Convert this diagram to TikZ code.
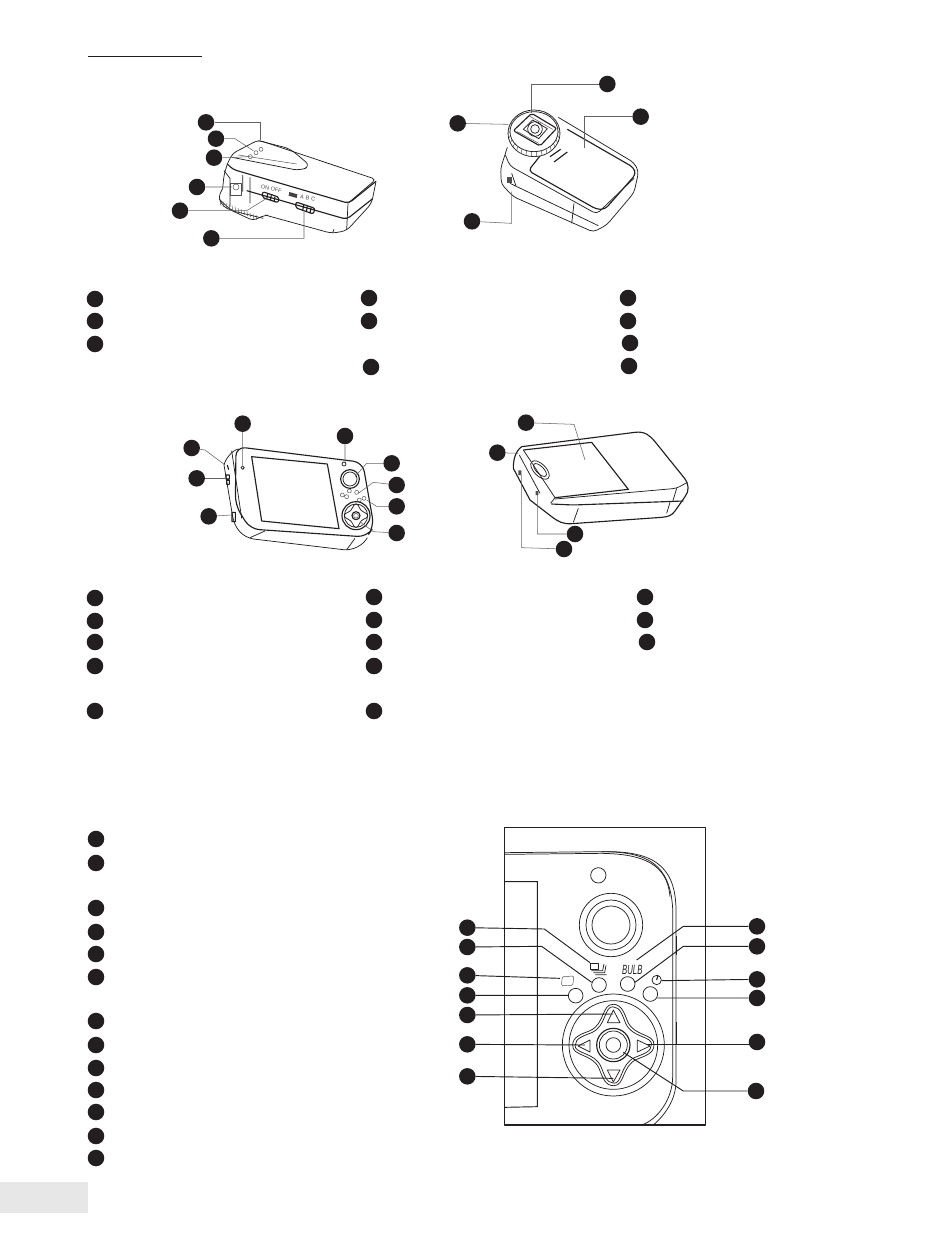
\documentclass[tikz,border=0pt]{standalone}
\usepackage{fontspec}
\setsansfont{Liberation Sans}
\definecolor{PrintBlack}{HTML}{231F20}
\definecolor{PageGrey}{HTML}{E7E7E7}
\begin{document}
\begin{tikzpicture}[x = 0.75pt, y = -0.75pt]%
    %
    \tikzstyle{dot} = [circle, fill = PrintBlack, inner sep = 0pt, minimum size = 12.4pt]%
    \tikzstyle{leader} = [draw = PrintBlack!70, line width = 0.4pt]%
    \tikzstyle{darkleader} = [draw = PrintBlack, line width = 0.7pt]%
    \tikzstyle{outline} = [draw = PrintBlack, line width = 0.55pt, line join = round]%
    \tikzstyle{heavy} = [draw = PrintBlack, line width = 0.85pt, line join = round]%
    \tikzstyle{fine} = [draw = PrintBlack!80, line width = 0.35pt, line join = round]%
    \tikzstyle{tinytext} = [inner sep = 0pt, text = PrintBlack!80, font = \sffamily\fontsize{4.2}{4.2}\selectfont]%
    %
    \useasboundingbox (0,0) rectangle (950,1253);%
    %
    \coordinate (rule-start) at (88,56.5);%
    \coordinate (rule-end) at (202,56.5);%
    \path [draw = PrintBlack, line width = 0.8pt] (rule-start) -- (rule-end);%
    \fill [PageGrey] (0,1182) rectangle (88,1213);%
    %
    % first list
    \node [dot] (l1-a) at (95,299) {};%
    \node [dot] (l1-b) at (95,321) {};%
    \node [dot] (l1-c) at (95,344) {};%
    \node [dot] (l1-d) at (369,298) {};%
    \node [dot] (l1-e) at (369,321) {};%
    \node [dot] (l1-f) at (371,367) {};%
    \node [dot] (l1-g) at (628,298) {};%
    \node [dot] (l1-h) at (628,321) {};%
    \node [dot] (l1-i) at (630,343) {};%
    \node [dot] (l1-j) at (629,366) {};%
    %
    % second list
    \node [dot] (l2-a) at (95,598) {};%
    \node [dot] (l2-b) at (95,621) {};%
    \node [dot] (l2-c) at (95,642) {};%
    \node [dot] (l2-d) at (95,666) {};%
    \node [dot] (l2-e) at (95,711) {};%
    \node [dot] (l2-f) at (374,597) {};%
    \node [dot] (l2-g) at (374,620) {};%
    \node [dot] (l2-h) at (374,642) {};%
    \node [dot] (l2-i) at (374,666) {};%
    \node [dot] (l2-j) at (374,711) {};%
    \node [dot] (l2-k) at (645,597) {};%
    \node [dot] (l2-l) at (645,620) {};%
    \node [dot] (l2-m) at (647,642) {};%
    %
    % third list
    \node [dot] (l3-a) at (96,839) {};%
    \node [dot] (l3-b) at (96,863) {};%
    \node [dot] (l3-c) at (96,908) {};%
    \node [dot] (l3-d) at (96,932) {};%
    \node [dot] (l3-e) at (96,954) {};%
    \node [dot] (l3-f) at (96,977) {};%
    \node [dot] (l3-g) at (96,1021) {};%
    \node [dot] (l3-h) at (96,1045) {};%
    \node [dot] (l3-i) at (96,1068) {};%
    \node [dot] (l3-j) at (96,1090) {};%
    \node [dot] (l3-k) at (96,1112) {};%
    \node [dot] (l3-l) at (96,1136) {};%
    \node [dot] (l3-m) at (96,1158) {};%
    %
    % flash unit, switch side
    \begin{scope}[shift = {(150,40)}, scale = 1/3]%
        \draw [outline, rounded corners = 3pt] (232,372) -- (248,340) -- (325,300) -- (678,418) -- (596,488);%
        \draw [heavy, rounded corners = 3pt] (232,372) -- (248,388) -- (596,490) -- (678,424);%
        \draw [outline, rounded corners = 3pt] (232,372) -- (222,405) -- (218,445);%
        \draw [outline, rounded corners = 4pt] (678,424) -- (665,490) -- (590,572) -- (545,580) -- (345,525);%
        \draw [heavy, rounded corners = 3pt] (290,452) -- (590,538) -- (668,476);%
        \draw [outline] (552,568) -- (548,578) (594,490) -- (590,570);%
        \draw [outline] (222,392) -- (240,415) -- (240,500) (278,405) -- (278,455) (300,412) -- (300,490);%
        \draw [outline, rounded corners = 5pt] (246,352) -- (450,392) -- (482,378) -- (420,326) -- (325,302);%
        \draw [fine] (265,345) -- (440,372);%
        \draw [fine] (301,350) circle (6) (318,338) circle (6) (333,328) circle (6);%
        % port
        \draw [fine] (240,430) rectangle (275,465);%
        \draw [fine] (258,441) circle (9);%
        % dial
        \draw [outline, rounded corners = 3pt] (218,445) -- (205,472) -- (220,500) -- (310,542) -- (332,530) -- (355,525);%
        \draw [outline, rounded corners = 3pt] (208,478) -- (245,512) -- (340,535);%
        \foreach \a in {0,...,12} {%
            \draw [fine] ({210+\a*9},{482+\a*3.6}) -- ({212+\a*9},{496+\a*3.6});%
        }%
        % switches
        \draw [heavy, rounded corners = 1.5pt] (338,455) -- (388,472) -- (384,488) -- (336,472) -- cycle;%
        \draw [heavy, rounded corners = 1.5pt] (438,486) -- (495,505) -- (490,522) -- (436,503) -- cycle;%
        \foreach \a in {0,1,2} {%
            \draw [heavy] ({353+\a*11},{462+\a*4}) -- ({350+\a*11},{478+\a*4});%
            \draw [heavy] ({461+\a*11},{495+\a*4}) -- ({458+\a*11},{512+\a*4});%
        }%
        \fill [PrintBlack!85] (418,456) -- (442,463) -- (440,474) -- (416,467) -- cycle;%
        \node [tinytext, rotate = -12] (on-off) at (364,446) {ON OFF};%
        \node [tinytext, rotate = -12] (abc) at (473,475) {A\,\,B\,\,C};%
        %
        \node [dot] (a-led3) at (168,247) {};%
        \node [dot] (a-led2) at (198,296) {};%
        \node [dot] (a-led1) at (192,353) {};%
        \node [dot] (a-port) at (141,441) {};%
        \node [dot] (a-power) at (90,512) {};%
        \node [dot] (a-channel) at (184,595) {};%
        \coordinate (a-led3-bend) at (330,247);%
        \coordinate (a-led3-end) at (330,300);%
        \coordinate (a-led2-bend) at (255,296);%
        \coordinate (a-led2-end) at (310,332);%
        \coordinate (a-led1-bend) at (240,353);%
        \coordinate (a-led1-end) at (293,350);%
        \coordinate (a-port-end) at (245,441);%
        \coordinate (a-power-bend) at (290,512);%
        \coordinate (a-power-end) at (350,475);%
        \coordinate (a-channel-bend) at (462,595);%
        \coordinate (a-channel-end) at (462,515);%
        \path [leader] (a-led3) -- (a-led3-bend) -- (a-led3-end);%
        \path [leader] (a-led2) -- (a-led2-bend) -- (a-led2-end);%
        \path [leader] (a-led1) -- (a-led1-bend) -- (a-led1-end);%
        \path [leader] (a-port) -- (a-port-end);%
        \path [leader] (a-power) -- (a-power-bend) -- (a-power-end);%
        \path [leader] (a-channel) -- (a-channel-bend) -- (a-channel-end);%
    \end{scope}%
    %
    % flash unit, shoe side
    \begin{scope}[shift = {(430,60)}, scale = 1/3]%
        \draw [outline, rounded corners = 3pt] (385,172) -- (612,308) -- (626,335) -- (612,398) -- (530,495) -- (490,516) -- (250,410) -- (214,372) -- (212,325) -- (232,262);%
        \draw [heavy, rounded corners = 3pt] (412,208) -- (610,322) -- (618,342) -- (525,448) -- (500,448) -- (295,332) -- (330,288);%
        \draw [outline, rounded corners = 3pt] (226,285) -- (240,318) -- (500,462) -- (612,355);%
        \draw [outline] (240,370) -- (505,497);%
        \draw [outline] (432,430) -- (425,490);%
        \draw [heavy] (360,290) -- (392,268) (372,306) -- (412,276);%
        % dial
        \draw [fill = white, outline] (312,220) ellipse [x radius = 78, y radius = 70];%
        \draw [outline] (312,215) ellipse [x radius = 72, y radius = 60];%
        \foreach \a in {0,12,...,348} {%
            \draw [fine] ({312+78*cos(\a)},{220+70*sin(\a)}) -- ({312+72*cos(\a)},{215+60*sin(\a)});%
        }%
        \draw [heavy, fill = white, rounded corners = 1.5pt] (305,160) -- (380,205) -- (330,258) -- (250,212) -- cycle;%
        \draw [outline] (308,180) -- (352,206) -- (326,236) -- (280,208) -- cycle;%
        \draw [outline] (315,207) circle (22) (315,207) circle (13);%
        \draw [fine] (262,215) -- (326,250) (298,168) -- (368,208);%
        \fill [PrintBlack!80] (232,350) rectangle (246,368);%
        \draw [outline] (245,340) -- (258,378);%
        %
        \node [dot] (b-shoe) at (532,72) {};%
        \node [dot] (b-dial) at (83,190) {};%
        \node [dot] (b-cover) at (632,170) {};%
        \node [dot] (b-jack) at (126,484) {};%
        \coordinate (b-shoe-bend) at (305,72);%
        \coordinate (b-shoe-end) at (305,160);%
        \coordinate (b-dial-end) at (235,193);%
        \coordinate (b-cover-bend) at (462,170);%
        \coordinate (b-cover-end) at (462,265);%
        \coordinate (b-jack-bend) at (245,490);%
        \coordinate (b-jack-end) at (245,395);%
        \path [leader] (b-shoe) -- (b-shoe-bend) -- (b-shoe-end);%
        \path [leader] (b-dial) -- (b-dial-end);%
        \path [leader] (b-cover) -- (b-cover-bend) -- (b-cover-end);%
        \path [leader] (b-jack) -- (b-jack-bend) -- (b-jack-end);%
    \end{scope}%
    %
    % remote, front
    \begin{scope}[shift = {(170,405)}, scale = 1/3]%
        \draw [heavy, rounded corners = 7pt] (198,125) -- (578,172) -- (612,365) -- (590,396) -- (240,372) -- (196,300) -- cycle;%
        \draw [outline] (206,132) .. controls (185,135) and (165,165) .. (162,180) -- (188,335) .. controls (195,370) and (215,395) .. (250,402) -- (520,434) .. controls (550,437) and (580,420) .. (592,398);%
        \draw [outline] (185,137) -- (215,340);%
        \draw [outline] (240,398) -- (285,378) (530,434) -- (555,400);%
        \draw [heavy] (245,155) -- (472,177) -- (507,371) -- (275,348) -- cycle;%
        \draw [outline] (218,188) circle (5);%
        \draw [outline] (522,177) circle (6);%
        \draw [heavy] (540,222) circle (28);%
        \draw [outline] (540,222) circle (21);%
        \draw [fine] (517,270) circle (6) (538,258) circle (6) (560,262) circle (6) (582,280) circle (6) (530,275) circle (6) (568,285) circle (6);%
        \draw [heavy] (558,332) circle (42);%
        \draw [outline] (558,332) circle (35);%
        \foreach \a in {0,90,180,270} {%
            \draw [outline, rotate around = {\a:(558,332)}] (558,297) .. controls (548,297) and (548,318) .. (534,322) .. controls (528,324) and (523,326) .. (523,332);%
        }%
        \draw [heavy] (558,332) circle (12);%
        \draw [fine] (558,332) circle (7);%
        \draw [heavy] (172,180) -- (176,194) (168,210) rectangle (178,222) (170,226) rectangle (178,238) (186,322) rectangle (196,350);%
        %
        \node [dot] (c-light) at (218,56) {};%
        \node [dot] (c-jack) at (65,129) {};%
        \node [dot] (c-lock) at (80,220) {};%
        \node [dot] (c-port) at (116,334) {};%
        \node [dot] (c-led) at (525,93) {};%
        \node [dot] (c-shutter) at (665,175) {};%
        \node [dot] (c-modes) at (680,240) {};%
        \node [dot] (c-ring) at (680,304) {};%
        \node [dot] (c-pad) at (680,384) {};%
        \coordinate (c-light-end) at (218,185);%
        \coordinate (c-jack-bend) at (105,135);%
        \coordinate (c-jack-end) at (165,180);%
        \coordinate (c-lock-end) at (165,220);%
        \coordinate (c-port-end) at (185,330);%
        \coordinate (c-led-end) at (525,170);%
        \coordinate (c-shutter-bend) at (590,175);%
        \coordinate (c-shutter-end) at (555,215);%
        \coordinate (c-modes-bend) at (610,232);%
        \coordinate (c-modes-end) at (565,265);%
        \coordinate (c-ring-bend) at (620,304);%
        \coordinate (c-ring-end) at (590,285);%
        \coordinate (c-pad-bend) at (610,380);%
        \coordinate (c-pad-end) at (570,350);%
        \path [leader] (c-light) -- (c-light-end);%
        \path [leader] (c-jack) -- (c-jack-bend) -- (c-jack-end);%
        \path [leader] (c-lock) -- (c-lock-end);%
        \path [leader] (c-port) -- (c-port-end);%
        \path [leader] (c-led) -- (c-led-end);%
        \path [leader] (c-shutter) -- (c-shutter-bend) -- (c-shutter-end);%
        \path [leader] (c-modes) -- (c-modes-bend) -- (c-modes-end);%
        \path [leader] (c-ring) -- (c-ring-bend) -- (c-ring-end);%
        \path [leader] (c-pad) -- (c-pad-bend) -- (c-pad-end);%
    \end{scope}%
    %
    % remote, back
    \begin{scope}[shift = {(480,405)}, scale = 1/3]%
        \draw [heavy] (125,125) -- (465,82) .. controls (495,78) and (510,92) .. (525,110) -- (612,218) .. controls (628,238) and (628,258) .. (615,275) -- (585,318) .. controls (575,332) and (565,335) .. (545,337) -- (275,356) .. controls (250,358) and (235,350) .. (215,335) -- (150,285) -- (100,190) .. controls (100,165) and (105,140) .. (125,125) -- cycle;%
        \draw [heavy] (130,135) -- (335,112) -- (445,253) -- (225,278);%
        \draw [outline] (130,135) -- (225,278) -- (212,295);%
        \draw [outline, rounded corners = 3pt] (225,282) -- (590,250) -- (622,232);%
        \draw [heavy, rounded corners = 3pt] (214,297) -- (280,300) -- (610,288);%
        \draw [outline] (295,310) -- (280,352) (570,292) -- (560,325) (590,250) -- (578,290);%
        \draw [outline] (118,150) -- (180,265);%
        \draw [outline, rotate around = {-45:(180,195)}] (180,195) ellipse [x radius = 35, y radius = 18];%
        \draw [outline, rotate around = {-45:(180,195)}] (180,195) ellipse [x radius = 25, y radius = 11];%
        \fill [PrintBlack!80] (115,196) rectangle (124,210) (167,258) rectangle (175,270);%
        %
        \node [dot] (d-cover) at (138,53) {};%
        \node [dot] (d-eyelet) at (52,143) {};%
        \node [dot] (d-usb) at (285,387) {};%
        \node [dot] (d-jack) at (252,432) {};%
        \coordinate (d-cover-bend) at (282,58);%
        \coordinate (d-cover-end) at (315,165);%
        \coordinate (d-eyelet-end) at (115,145);%
        \coordinate (d-usb-bend) at (172,387);%
        \coordinate (d-usb-end) at (172,270);%
        \coordinate (d-jack-bend) at (125,428);%
        \coordinate (d-jack-end) at (125,210);%
        \path [leader] (d-cover) -- (d-cover-bend) -- (d-cover-end);%
        \path [leader] (d-eyelet) -- (d-eyelet-end);%
        \path [leader] (d-usb) -- (d-usb-bend) -- (d-usb-end);%
        \path [leader] (d-jack) -- (d-jack-bend) -- (d-jack-end);%
    \end{scope}%
    %
    % button close-up
    \begin{scope}[shift = {(450,820)}, scale = 1/3]%
        \draw [heavy] (163,22) rectangle (766,915);%
        \draw [outline] (163,98) -- (455,95) .. controls (590,95) and (660,130) .. (668,265) -- (668,770) .. controls (668,840) and (620,900) .. (575,915);%
        \draw [outline] (163,103) -- (455,100) .. controls (585,102) and (652,135) .. (660,230) (455,95) .. controls (600,92) and (675,130) .. (678,265) -- (678,780) .. controls (680,840) and (640,890) .. (610,915);%
        \draw [darkleader] (163,185) -- (262,185) -- (262,860) -- (163,862);%
        \draw [heavy] (680,348) -- (680,405) (680,605) -- (680,672);%
        \draw [outline] (445,166) circle (23);%
        \draw [outline] (483,315) circle (95) (483,315) circle (75) (483,315) circle (57);%
        \draw [outline] (447,495) circle (22) (533,492) circle (22) (377,527) circle (22) (601,522) circle (22);%
        % icons
        \draw [fine, rounded corners = 1pt] (337,470) -- (372,468) -- (368,496) -- (334,497) -- cycle;%
        \draw [outline] (422,429) rectangle (444,448);%
        \draw [outline] (424,452) -- (458,452) -- (462,432) (430,458) -- (464,458) -- (468,436) (436,464) -- (470,464);%
        \node [inner sep = 0pt, text = PrintBlack, font = \sffamily\slshape\fontsize{10}{10}\selectfont, xscale = 0.58] (bulb) at (547,450) {BULB};%
        \draw [outline] (620,480) circle (14);%
        \draw [heavy] (620,480) -- (624,465);%
        % pad
        \draw [outline] (490,675) circle (153) (490,675) circle (133);%
        \foreach \a in {0,90,180,270} {%
            \draw [outline, rotate around = {\a:(490,675)}] (490,553) .. controls (455,551) and (465,612) .. (420,632) .. controls (395,642) and (368,650) .. (368,675);%
            \draw [outline, rotate around = {\a:(490,675)}] (490,560) .. controls (462,558) and (470,618) .. (425,638) .. controls (400,648) and (376,655) .. (376,675);%
        }%
        \draw [heavy] (490,675) circle (50);%
        \draw [outline] (490,675) circle (42) (490,675) circle (22);%
        \draw [outline] (490,570) -- (510,608) -- (472,608) -- cycle;%
        \draw [outline] (490,786) -- (510,750) -- (472,750) -- cycle;%
        \draw [outline] (384,678) -- (420,660) -- (420,696) -- cycle;%
        \draw [outline] (600,678) -- (562,660) -- (562,696) -- cycle;%
        %
        \node [dot] (e-stack) at (52,323) {};%
        \node [dot] (e-drive) at (52,381) {};%
        \node [dot] (e-single) at (52,466) {};%
        \node [dot] (e-mode) at (52,526) {};%
        \node [dot] (e-up) at (52,585) {};%
        \node [dot] (e-left) at (52,673) {};%
        \node [dot] (e-down) at (52,769) {};%
        \node [dot] (e-bulb) at (921,319) {};%
        \node [dot] (e-bulbkey) at (921,379) {};%
        \node [dot] (e-timer) at (921,478) {};%
        \node [dot] (e-timerkey) at (921,534) {};%
        \node [dot] (e-right) at (921,666) {};%
        \node [dot] (e-ok) at (918,813) {};%
        \coordinate (e-stack-bend) at (283,327);%
        \coordinate (e-stack-end) at (420,428);%
        \coordinate (e-drive-bend) at (275,379);%
        \coordinate (e-drive-end) at (425,487);%
        \coordinate (e-single-end) at (330,475);%
        \coordinate (e-mode-end) at (355,526);%
        \coordinate (e-up-end) at (490,582);%
        \coordinate (e-left-end) at (405,675);%
        \coordinate (e-down-end) at (490,775);%
        \coordinate (e-bulb-bend) at (700,319);%
        \coordinate (e-bulb-end) at (560,420);%
        \coordinate (e-bulbkey-bend) at (700,379);%
        \coordinate (e-bulbkey-end) at (555,487);%
        \coordinate (e-timer-end) at (635,482);%
        \coordinate (e-timerkey-end) at (622,534);%
        \coordinate (e-right-start) at (900,674);%
        \coordinate (e-right-end) at (590,674);%
        \coordinate (e-ok-bend) at (700,813);%
        \coordinate (e-ok-end) at (520,697);%
        \path [darkleader] (e-stack) -- (e-stack-bend) -- (e-stack-end);%
        \path [darkleader] (e-drive) -- (e-drive-bend) -- (e-drive-end);%
        \path [darkleader] (e-single) -- (e-single-end);%
        \path [darkleader] (e-mode) -- (e-mode-end);%
        \path [darkleader] (e-up) -- (e-up-end);%
        \path [darkleader] (e-left) -- (e-left-end);%
        \path [darkleader] (e-down) -- (e-down-end);%
        \path [darkleader] (e-bulb) -- (e-bulb-bend) -- (e-bulb-end);%
        \path [darkleader] (e-bulbkey) -- (e-bulbkey-bend) -- (e-bulbkey-end);%
        \path [darkleader] (e-timer) -- (e-timer-end);%
        \path [darkleader] (e-timerkey) -- (e-timerkey-end);%
        \path [darkleader] (e-right-start) -- (e-right-end);%
        \path [darkleader] (e-ok) -- (e-ok-bend) -- (e-ok-end);%
    \end{scope}%
    %
\end{tikzpicture}
\end{document}
